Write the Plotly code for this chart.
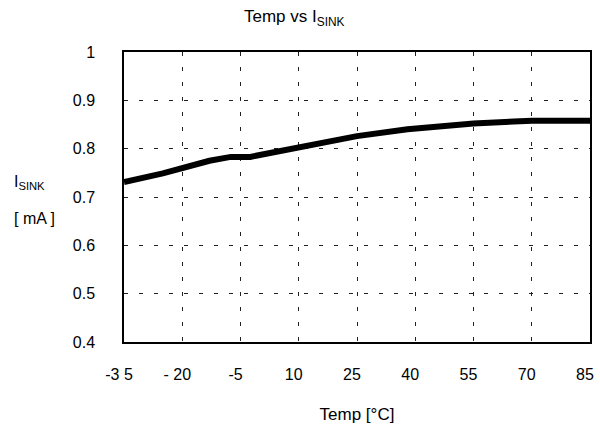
import plotly.graph_objects as go

# Data
temp = [-35, -25, -13, -7.5, -2.5, 12, 18, 25, 38, 55, 70, 85]
isink = [0.731, 0.749, 0.775, 0.783, 0.783, 0.806, 0.817, 0.826, 0.840, 0.852, 0.858, 0.858]

x_tickvals = [-35, -20, -5, 10, 25, 40, 55, 70, 85]
x_ticktext = ["-3 5", "- 20", "-5", "10", "25", "40", "55", "70", "85"]
y_tickvals = [0.4, 0.5, 0.6, 0.7, 0.8, 0.9, 1.0]
y_ticktext = ["0.4", "0.5", "0.6", "0.7", "0.8", "0.9", "1"]

FONT = "Liberation Sans, Arial, sans-serif"
FS = 16
FS_T = 17

fig = go.Figure()
fig.add_trace(go.Scatter(
    x=temp, y=isink, mode="lines",
    line=dict(color="black", width=6, shape="linear"),
    showlegend=False, hoverinfo="x+y",
))

grid = dict(showgrid=True, gridcolor="#222", gridwidth=1, griddash="4px,11px")

fig.update_xaxes(
    range=[-35, 85], tickvals=x_tickvals, ticktext=x_ticktext,
    showline=True, linecolor="black", linewidth=1.5, mirror=True,
    ticks="", zeroline=False, ticklabelstandoff=17, ticklabelshift=-5,
    automargin=False,
    tickfont=dict(family=FONT, size=FS, color="black"),
    title=dict(text="Temp [°C]", font=dict(family=FONT, size=FS_T, color="black"), standoff=26),
    **grid,
)
fig.update_yaxes(
    range=[0.4, 1.0], tickvals=y_tickvals, ticktext=y_ticktext,
    showline=True, linecolor="black", linewidth=1.5, mirror=True,
    ticks="", zeroline=False, ticklabelstandoff=24, automargin=False,
    tickfont=dict(family=FONT, size=FS, color="black"),
    **grid,
)

fig.add_annotation(
    text="I<sub>SINK</sub>", xref="paper", yref="paper",
    x=-0.241, y=0.55, xanchor="left", yanchor="middle", align="left",
    showarrow=False, font=dict(family=FONT, size=FS, color="black"),
)
fig.add_annotation(
    text="[ mA ]", xref="paper", yref="paper",
    x=-0.241, y=0.427, xanchor="left", yanchor="middle", align="left",
    showarrow=False, font=dict(family=FONT, size=FS, color="black"),
)
fig.add_annotation(
    text="Temp vs I<sub>SINK</sub>", xref="paper", yref="paper",
    x=0.365, y=1.0, yshift=21, xanchor="center", yanchor="bottom",
    showarrow=False, font=dict(family=FONT, size=FS_T, color="black"),
)

fig.update_layout(
    width=600, height=425,
    margin=dict(l=124, r=10, t=52, b=83),
    paper_bgcolor="white", plot_bgcolor="white",
    font=dict(family=FONT, size=FS, color="black"),
)

html = fig.to_html(include_plotlyjs=True, full_html=True,
                   config={"displayModeBar": False})
html = html.replace("<head>", "<head><style>html,body{margin:0;padding:0;overflow:hidden;}</style>", 1)
with open("out.html", "w", encoding="utf-8") as f:
    f.write(html)
